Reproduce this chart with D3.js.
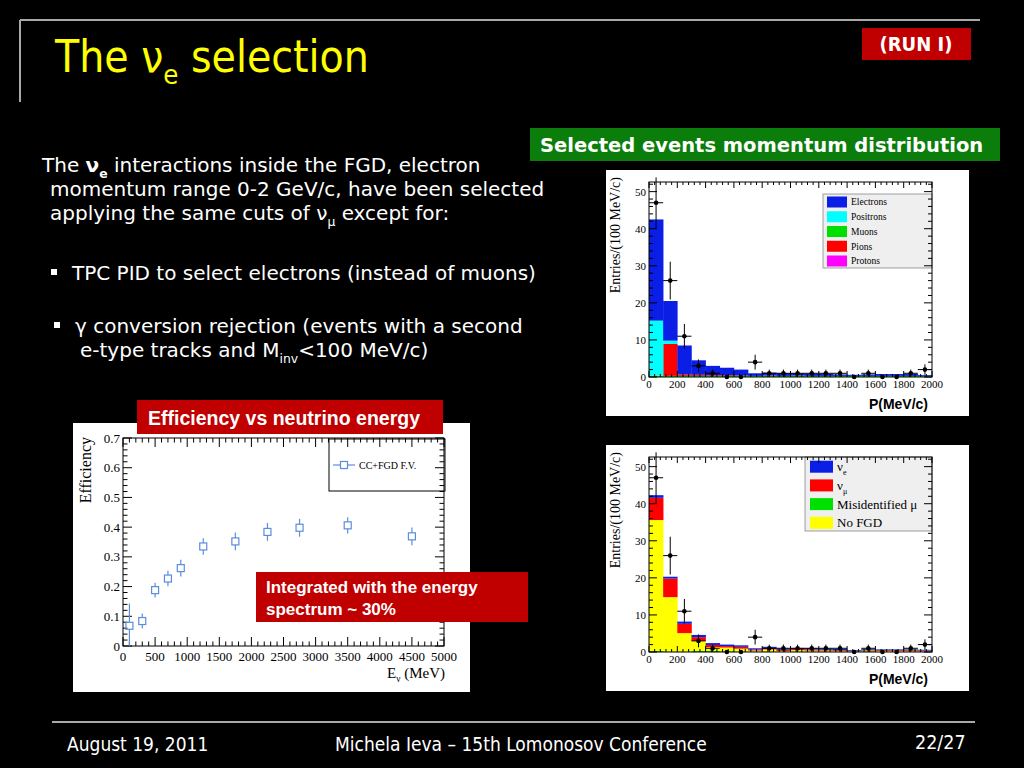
<!DOCTYPE html>
<html><head><meta charset="utf-8">
<script src="https://cdn.jsdelivr.net/npm/d3@7"></script>
<style>body{margin:0;background:#000}svg{display:block}</style>
</head><body><svg id="s" width="1024" height="768"></svg>
<script>
// ---------------- DATA ----------------
const binStarts = [0,100,200,300,400,500,600,700,800,900,1000,1100,1200,1300,1400,1500,1600,1700,1800,1900];
const binWidth = 100;
// top histogram (particle type), stacked bottom->top: Muons, Pions, Positrons, Electrons, Protons
const topKeys = ["Muons","Pions","Positrons","Electrons","Protons"];
const muons     = [0.4,0.3,0.3,0.3,0.3,0.3,0.3,0.3,0.3,0.3,0.3,0.3,0.3,0.3,0.3,0.3,0.3,0.3,0.3,0.2];
const pions     = [0,8.6,0.4,0.3,0.2,0.2,0.1,0,0.1,0,0.1,0,0,0,0,0,0,0,0,0];
const positrons = [14.8,0.9,0,0,0,0,0,0,0,0,0,0,0,0,0,0,0,0,0,0];
const electrons = [27.3,10.7,7.8,3.9,2.5,2.0,1.6,0.7,0.8,0.7,0.6,0.6,0.6,0.4,0.3,0.4,0.5,0.5,0.5,0.3];
const protons   = [0,0,0,0,0,0,0,0,0,0,0,0,0,0,0,0,0,0,0,0];
const topLegend = ["Electrons","Positrons","Muons","Pions","Protons"];
// bottom histogram (origin), stacked bottom->top: Misidentified mu, No FGD, nu_mu, nu_e
const botKeys = ["Misidentified μ","No FGD","νμ","νe"];
const misid = [0.3,0.1,0.1,0.3,0.3,0.2,0.1,0.1,0.1,0.1,0.1,0.1,0.1,0.1,0.1,0.2,0.1,0.1,0.1,0.1];
const noFGD = [35.3,14.7,5.0,2.7,1.0,1.0,0.8,0.3,0.6,0.2,0.4,0.3,0.3,0.2,0.1,0.2,0.2,0.2,0.2,0.1];
const numu  = [6.0,5.0,2.5,1.0,0.6,0.4,0.5,0.3,0.4,0.3,0.3,0.3,0.2,0.2,0.1,0.2,0.2,0.2,0.2,0.2];
const nue   = [0.7,0.5,0.6,0.6,0.5,0.4,0.4,0.3,0.3,0.3,0.3,0.3,0.3,0.3,0.2,0.2,0.2,0.2,0.2,0.2];
// data points (entries per bin)
const dataCounts = [47,26,11,3,1,0,0,4,1,1,1,1,1,1,0,1,0,0,1,2];
const momTicks = [0,200,400,600,800,1000,1200,1400,1600,1800,2000];
const entryTicks = [0,10,20,30,40,50];
// efficiency vs neutrino energy
const effEnergy = [100,300,500,700,900,1250,1750,2250,2750,3500,4500];
const effValue  = [0.068,0.084,0.188,0.227,0.262,0.335,0.352,0.384,0.398,0.406,0.369];
const effError  = [0.075,0.025,0.025,0.026,0.028,0.028,0.030,0.030,0.030,0.027,0.030];
const energyTicks = [0,500,1000,1500,2000,2500,3000,3500,4000,4500,5000];
const effTicks = [0,0.1,0.2,0.3,0.4,0.5,0.6,0.7];

// ---------------- DRAW ----------------
const svg = d3.select('#s');
svg.append('rect').attr('width',1024).attr('height',768).attr('fill','#000');
const serif = "'Liberation Serif','DejaVu Serif',serif";
const sans = "'Liberation Sans',Arial,sans-serif";
const verdana = "'DejaVu Sans',Verdana,sans-serif";
const tahoma = "'DejaVu Sans Condensed','DejaVu Sans',sans-serif";

// rich text helper: parts [{t, sub, bold}]
function rich(g, x, y, parts, size, fill, family, weight) {
  const t = g.append('text').attr('x',x).attr('y',y).attr('fill',fill)
    .attr('font-family',family).attr('font-size',size).attr('font-weight',weight||'normal');
  let shift = 0;
  parts.forEach(p => {
    const target = p.sub ? size*0.28 : 0;
    const ts = t.append('tspan').text(p.t).attr('dy', target - shift);
    if (p.sub) ts.attr('font-size', size*0.62);
    if (p.bold) ts.attr('font-weight','bold');
    shift = target;
  });
  return t;
}

// header
svg.append('line').attr('x1',20).attr('y1',20).attr('x2',980).attr('y2',20).attr('stroke','#a8a8a8').attr('stroke-width',2);
svg.append('line').attr('x1',20).attr('y1',20).attr('x2',20).attr('y2',102).attr('stroke','#a8a8a8').attr('stroke-width',2);
rich(svg, 55, 72, [{t:'The ν'},{t:'e',sub:true},{t:' selection'}], 44, '#ffff00', tahoma);
svg.append('rect').attr('x',862).attr('y',28).attr('width',109).attr('height',32).attr('fill','#c00000');
svg.append('text').attr('x',916).attr('y',51).attr('text-anchor','middle').attr('fill','#fff')
  .attr('font-family',tahoma).attr('font-weight','bold').attr('font-size',20).text('(RUN I)');

// body text
const bs = 20;
rich(svg, 42, 172, [{t:'The '},{t:'ν',bold:true},{t:'e',sub:true,bold:true},{t:' interactions inside the FGD, electron'}], bs, '#fff', verdana);
rich(svg, 50, 196, [{t:'momentum range 0-2 GeV/c, have been selected'}], bs, '#fff', verdana);
rich(svg, 50, 220, [{t:'applying the same cuts of ν'},{t:'μ',sub:true},{t:' except for:'}], bs, '#fff', verdana);
svg.append('rect').attr('x',51).attr('y',269).attr('width',6).attr('height',6).attr('fill','#fff');
rich(svg, 72, 280, [{t:'TPC PID to select electrons (instead of muons)'}], bs, '#fff', verdana);
svg.append('rect').attr('x',54).attr('y',322).attr('width',6).attr('height',6).attr('fill','#fff');
rich(svg, 75, 333, [{t:'γ conversion rejection (events with a second'}], bs, '#fff', verdana);
rich(svg, 80, 357, [{t:'e-type tracks and M'},{t:'inv',sub:true},{t:'<100 MeV/c)'}], bs, '#fff', verdana);

// green label
svg.append('rect').attr('x',530).attr('y',128).attr('width',470).attr('height',33).attr('fill','#0a7d0a');
svg.append('text').attr('x',540).attr('y',152).attr('fill','#fff').attr('font-family',verdana)
  .attr('font-weight','bold').attr('font-size',19.5).text('Selected events momentum distribution');

// footer
svg.append('line').attr('x1',52).attr('y1',722).attr('x2',975).attr('y2',722).attr('stroke','#a8a8a8').attr('stroke-width',2);
svg.append('text').attr('x',67).attr('y',751).attr('fill','#fff').attr('font-family',tahoma).attr('font-size',19).text('August 19, 2011');
svg.append('text').attr('x',335).attr('y',751).attr('fill','#fff').attr('font-family',tahoma).attr('font-size',19).text('Michela Ieva – 15th Lomonosov Conference');
svg.append('text').attr('x',915).attr('y',749).attr('fill','#fff').attr('font-family',tahoma).attr('font-size',19.5).text('22/27');

// ---- generic ROOT-style frame ----
function frame(g, x, y, xMajor, xMinor, yMajor, yMinor, tl) {
  const [x0,x1] = x.range(), [y0,y1] = y.range();
  g.append('rect').attr('x',x0).attr('y',y1).attr('width',x1-x0).attr('height',y0-y1)
    .attr('fill','none').attr('stroke','#000').attr('stroke-width',1);
  const tk = g.append('g').attr('stroke','#000').attr('stroke-width',1);
  xMinor.forEach(v => { const px=x(v);
    tk.append('line').attr('x1',px).attr('x2',px).attr('y1',y0).attr('y2',y0-tl.xm);
    tk.append('line').attr('x1',px).attr('x2',px).attr('y1',y1).attr('y2',y1+tl.xm); });
  xMajor.forEach(v => { const px=x(v);
    tk.append('line').attr('x1',px).attr('x2',px).attr('y1',y0).attr('y2',y0-tl.xM);
    tk.append('line').attr('x1',px).attr('x2',px).attr('y1',y1).attr('y2',y1+tl.xM); });
  yMinor.forEach(v => { const py=y(v);
    tk.append('line').attr('y1',py).attr('y2',py).attr('x1',x0).attr('x2',x0+tl.ym);
    tk.append('line').attr('y1',py).attr('y2',py).attr('x1',x1).attr('x2',x1-tl.ym); });
  yMajor.forEach(v => { const py=y(v);
    tk.append('line').attr('y1',py).attr('y2',py).attr('x1',x0).attr('x2',x0+tl.yM);
    tk.append('line').attr('y1',py).attr('y2',py).attr('x1',x1).attr('x2',x1-tl.yM); });
}

function minorsOf(major, n, limit) {
  const out = [];
  for (let i=0;i<major.length-1;i++){ const a=major[i], b=major[i+1];
    for (let k=1;k<n;k++) out.push(a+(b-a)*k/n); }
  const step = (major[1]-major[0])/n;
  for (let v=major[major.length-1]+step; v<=limit+1e-9; v+=step) out.push(v);
  return out;
}

// ---- histogram panel ----
function histPanel(py, keys, arrays, colors, legend) {
  const g = svg.append('g');
  g.append('rect').attr('x',606).attr('y',py).attr('width',363).attr('height',246).attr('fill','#fff');
  const x = d3.scaleLinear().domain([0,2000]).range([649,932]);
  const y = d3.scaleLinear().domain([0,52.6]).range([py+207,py+12]);
  const rows = binStarts.map((b,i) => { const r={bin:b}; keys.forEach((k,j)=>r[k]=arrays[j][i]); return r; });
  const stack = d3.stack().keys(keys)(rows);
  stack.forEach((layer,j) => {
    g.append('g').attr('fill',colors[j]).selectAll('rect').data(layer).join('rect')
      .attr('x',d=>x(d.data.bin)).attr('width',d=>x(d.data.bin+binWidth)-x(d.data.bin)+0.3)
      .attr('y',d=>y(d[1])).attr('height',d=>Math.max(0,y(d[0])-y(d[1])));
  });
  // legend
  const L = legend;
  g.append('rect').attr('x',L.x).attr('y',py+L.y).attr('width',932-L.x).attr('height',L.h)
    .attr('fill','#efefef').attr('stroke','#888').attr('stroke-width',0.8);
  L.items.forEach((it,i) => {
    const cy = py+L.y0+i*L.dy;
    g.append('rect').attr('x',L.sx).attr('y',cy-L.sh/2).attr('width',L.sw).attr('height',L.sh).attr('fill',it.c);
    rich(g, L.tx, cy+L.fs*0.35, it.parts, L.fs, '#000', serif);
  });
  // data points
  const dp = g.append('g').attr('stroke','#000').attr('stroke-width',1);
  dataCounts.forEach((n,i) => {
    const cx = x(binStarts[i]+binWidth/2), cy = y(n), e = Math.sqrt(n);
    if (n>0) {
      dp.append('line').attr('x1',cx).attr('x2',cx).attr('y1',y(n+e)).attr('y2',y(n-e));
      dp.append('line').attr('x1',x(binStarts[i])).attr('x2',x(binStarts[i]+binWidth)).attr('y1',cy).attr('y2',cy);
    }
    dp.append('circle').attr('cx',cx).attr('cy',cy).attr('r',2.3).attr('fill','#000').attr('stroke','none');
  });
  frame(g, x, y, momTicks, minorsOf(momTicks,5,2000), entryTicks, minorsOf(entryTicks,5,52.6), {xM:6,xm:3,yM:8,ym:4});
  // tick labels
  g.append('g').attr('font-family',serif).attr('font-size',11).attr('text-anchor','middle')
    .selectAll('text').data(momTicks).join('text').attr('x',d=>x(d)).attr('y',py+218).text(d=>d);
  g.append('g').attr('font-family',serif).attr('font-size',11).attr('text-anchor','end')
    .selectAll('text').data(entryTicks).join('text').attr('x',646).attr('y',d=>y(d)+4).text(d=>d);
  g.append('text').attr('transform',`translate(620,${py+7}) rotate(-90)`).attr('text-anchor','end')
    .attr('font-family',serif).attr('font-size',14).text('Entries/(100 MeV/c)');
  g.append('text').attr('x',928).attr('y',py+239).attr('text-anchor','end').attr('font-family',sans)
    .attr('font-weight','bold').attr('font-size',14).text('P(MeV/c)');
  return g;
}

histPanel(170, topKeys, [muons,pions,positrons,electrons,protons],
  ['#00e000','#ff0000','#00ffff','#0a1ee6','#ff00ff'],
  {x:823, y:24, h:74, y0:32, dy:14.75, sx:827, sw:20, sh:11, tx:851, fs:9.5,
   items:[{c:'#0a1ee6',parts:[{t:topLegend[0]}]},{c:'#00ffff',parts:[{t:topLegend[1]}]},
          {c:'#00e000',parts:[{t:topLegend[2]}]},{c:'#ff0000',parts:[{t:topLegend[3]}]},
          {c:'#ff00ff',parts:[{t:topLegend[4]}]}]});

histPanel(445, botKeys, [misid,noFGD,numu,nue],
  ['#00e000','#ffff00','#ff0000','#0a1ee6'],
  {x:805, y:12, h:74, y0:21.7, dy:18.7, sx:810, sw:23, sh:12, tx:837, fs:13,
   items:[{c:'#0a1ee6',parts:[{t:'ν'},{t:'e',sub:true}]},{c:'#ff0000',parts:[{t:'ν'},{t:'μ',sub:true}]},
          {c:'#00e000',parts:[{t:'Misidentified μ'}]},{c:'#ffff00',parts:[{t:'No FGD'}]}]});

// ---- efficiency panel ----
(function(){
  const g = svg.append('g');
  g.append('rect').attr('x',73).attr('y',423).attr('width',397).attr('height',269).attr('fill','#fff');
  const x = d3.scaleLinear().domain([0,5000]).range([123,444]);
  const y = d3.scaleLinear().domain([0,0.7]).range([646,438]);
  // legend box
  g.append('rect').attr('x',329).attr('y',439).attr('width',116).attr('height',52).attr('fill','#fff').attr('stroke','#000');
  frame(g, x, y, energyTicks, minorsOf(energyTicks,5,5000), effTicks, minorsOf(effTicks,5,0.7), {xM:9,xm:4.5,yM:9,ym:4.5});
  g.append('g').attr('font-family',serif).attr('font-size',13).attr('text-anchor','middle')
    .selectAll('text').data(energyTicks).join('text').attr('x',d=>x(d)).attr('y',661).text(d=>d);
  g.append('g').attr('font-family',serif).attr('font-size',13).attr('text-anchor','end')
    .selectAll('text').data(effTicks).join('text').attr('x',120).attr('y',d=>y(d)+4.5).text(d=>d);
  g.append('text').attr('transform','translate(91,437) rotate(-90)').attr('text-anchor','end')
    .attr('font-family',serif).attr('font-size',16).text('Efficiency');
  rich(g, 387, 678, [{t:'E'},{t:'ν',sub:true},{t:' (MeV)'}], 15, '#000', serif);
  const c = '#5a8ddc';
  const m = g.append('g').attr('stroke',c).attr('stroke-width',1.2).attr('fill','none');
  effEnergy.forEach((e,i) => {
    const cx=x(e), cy=y(effValue[i]);
    m.append('line').attr('x1',cx).attr('x2',cx).attr('y1',y(effValue[i]+effError[i])).attr('y2',cy-3.5);
    m.append('line').attr('x1',cx).attr('x2',cx).attr('y1',cy+3.5).attr('y2',y(Math.max(0,effValue[i]-effError[i])));
    m.append('rect').attr('x',cx-3.5).attr('y',cy-3.5).attr('width',7).attr('height',7);
  });
  m.append('line').attr('x1',333).attr('x2',340.5).attr('y1',465).attr('y2',465);
  m.append('line').attr('x1',347.5).attr('x2',355).attr('y1',465).attr('y2',465);
  m.append('rect').attr('x',340.5).attr('y',461.5).attr('width',7).attr('height',7);
  g.append('text').attr('x',359).attr('y',468.5).attr('font-family',serif).attr('font-size',10).text('CC+FGD F.V.');
})();

// red labels
svg.append('rect').attr('x',137).attr('y',400).attr('width',306).attr('height',34).attr('fill','#c00000');
svg.append('text').attr('x',148).attr('y',425).attr('fill','#fff').attr('font-family',sans).attr('font-weight','bold')
  .attr('font-size',19.5).text('Efficiency vs neutrino energy');
svg.append('rect').attr('x',256).attr('y',572).attr('width',272).attr('height',50).attr('fill','#c00000');
svg.append('text').attr('x',266).attr('y',593).attr('fill','#fff').attr('font-family',sans).attr('font-weight','bold')
  .attr('font-size',17).text('Integrated with the energy');
svg.append('text').attr('x',266).attr('y',615).attr('fill','#fff').attr('font-family',sans).attr('font-weight','bold')
  .attr('font-size',17).text('spectrum ~ 30%');
</script></body></html>
